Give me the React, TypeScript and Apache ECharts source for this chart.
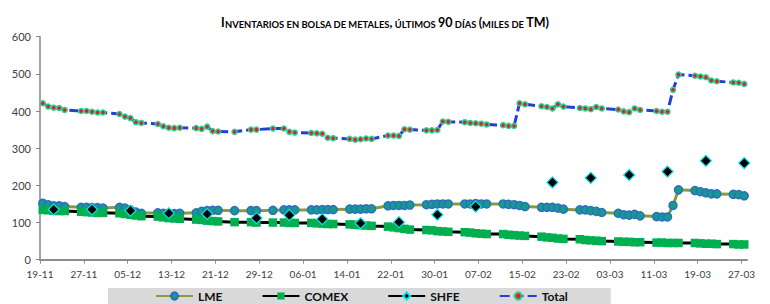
import React, { useEffect, useRef } from "react";
import * as echarts from "echarts";

// Business days (últimos 90 días)
const dates: string[] = [
  "2018-11-19", "2018-11-20", "2018-11-21", "2018-11-22", "2018-11-23",
  "2018-11-26", "2018-11-27", "2018-11-28", "2018-11-29", "2018-11-30",
  "2018-12-03", "2018-12-04", "2018-12-05", "2018-12-06", "2018-12-07",
  "2018-12-10", "2018-12-11", "2018-12-12", "2018-12-13", "2018-12-14",
  "2018-12-17", "2018-12-18", "2018-12-19", "2018-12-20", "2018-12-21",
  "2018-12-24", "2018-12-27", "2018-12-28",
  "2018-12-31", "2019-01-02", "2019-01-03", "2019-01-04",
  "2019-01-07", "2019-01-08", "2019-01-09", "2019-01-10", "2019-01-11",
  "2019-01-14", "2019-01-15", "2019-01-16", "2019-01-17", "2019-01-18",
  "2019-01-21", "2019-01-22", "2019-01-23", "2019-01-24", "2019-01-25",
  "2019-01-28", "2019-01-29", "2019-01-30", "2019-01-31", "2019-02-01",
  "2019-02-04", "2019-02-05", "2019-02-06", "2019-02-07", "2019-02-08",
  "2019-02-11", "2019-02-12", "2019-02-13", "2019-02-14", "2019-02-15",
  "2019-02-18", "2019-02-19", "2019-02-20", "2019-02-21", "2019-02-22",
  "2019-02-25", "2019-02-26", "2019-02-27", "2019-02-28", "2019-03-01",
  "2019-03-04", "2019-03-05", "2019-03-06", "2019-03-07", "2019-03-08",
  "2019-03-11", "2019-03-12", "2019-03-13", "2019-03-14", "2019-03-15",
  "2019-03-18", "2019-03-19", "2019-03-20", "2019-03-21", "2019-03-22",
  "2019-03-25", "2019-03-26", "2019-03-27",
];

const lme: number[] = [
  152, 148, 145, 145, 143,
  141, 141, 140, 140, 139,
  141, 139, 134, 128, 125,
  126, 125, 124, 124, 125,
  126, 130, 132, 133, 133,
  132, 132, 132,
  133, 134, 134, 134,
  134, 134, 135, 135, 135,
  136, 136, 136, 137, 137,
  145, 146, 146, 146, 147,
  148, 149, 150, 150, 150,
  150, 150, 151, 150, 150,
  150, 149, 148, 146, 143,
  141, 141, 141, 139, 136,
  134, 134, 132, 130, 127,
  125, 121, 120, 122, 118,
  116, 115, 115, 146, 188,
  186, 183, 180, 177, 177,
  176, 175, 172,
];

const comex: number[] = [
  134, 133, 132, 131, 131,
  129, 128, 127, 126, 126,
  125, 123, 121, 119, 117,
  116, 114, 112, 111, 110,
  108, 107, 105, 104, 103,
  101, 101, 100,
  100, 100, 99, 99,
  99, 98, 97, 96, 96,
  95, 94, 93, 92, 91,
  89, 87, 85, 83, 81,
  80, 79, 77, 76, 75,
  74, 73, 71, 70, 69,
  69, 67, 66, 65, 64,
  62, 60, 59, 57, 56,
  55, 53, 52, 51, 50,
  49, 48, 48, 47, 47,
  46, 46, 45, 45, 45,
  45, 44, 43, 43, 42,
  42, 41, 41,
];

const total: number[] = [
  421, 412, 409, 408, 403,
  400, 400, 398, 396, 396,
  392, 385, 381, 370, 368,
  365, 359, 355, 354, 355,
  354, 352, 358, 346, 345,
  344, 350, 350,
  353, 353, 344, 342,
  341, 340, 339, 328, 327,
  325, 323, 324, 326, 325,
  334, 334, 333, 351, 350,
  348, 348, 349, 372, 371,
  370, 368, 367, 366, 364,
  362, 360, 360, 421, 418,
  413, 411, 407, 418, 412,
  408, 407, 405, 411, 407,
  404, 399, 397, 407, 403,
  400, 398, 398, 457, 498,
  495, 493, 491, 482, 480,
  477, 476, 473,
];

// SHFE weekly
const shfeDates: string[] = [
  "2018-11-21", "2018-11-28", "2018-12-05", "2018-12-12", "2018-12-19",
  "2018-12-28", "2019-01-03", "2019-01-09", "2019-01-16", "2019-01-23",
  "2019-01-30", "2019-02-06", "2019-02-20", "2019-02-27", "2019-03-06",
  "2019-03-13", "2019-03-20", "2019-03-27",
];
const shfe: number[] = [
  135, 135, 132, 125, 123,
  112, 120, 109, 98, 101,
  121, 143, 208, 220, 228,
  237, 266, 260,
];

const tickLabels: string[] = [
  "19-11", "27-11", "05-12", "13-12", "21-12", "29-12", "06-01", "14-01", "22-01",
  "30-01", "07-02", "15-02", "23-02", "03-03", "11-03", "19-03", "27-03",
];

const START = Date.UTC(2018, 10, 19);
const DAY = 86400000;
const dayPos = (s: string): number => {
  const [y, m, d] = s.split("-").map(Number);
  return (Date.UTC(y, m - 1, d) - START) / DAY + 0.5;
};

const FONT = "Lato";

export default function App() {
  const ref = useRef<HTMLDivElement>(null);

  useEffect(() => {
    if (!ref.current) return;
    const chart = echarts.init(ref.current, null, { renderer: "svg" });

    const xs = dates.map(dayPos);
    const shfeData: any[] = [];
    shfeDates.forEach((d, i) => {
      const x = dayPos(d);
      if (i > 0) shfeData.push([x - 1, null]);
      shfeData.push([x, shfe[i]]);
    });

    const option: any = {
      animation: false,
      backgroundColor: "#ffffff",
      title: {
        text:
          "{b|I}{s|NVENTARIOS EN BOLSA DE METALES}{b|,}{s| ÚLTIMOS }{b|90}{s| DÍAS }{b|(}{s|MILES DE }{b|TM)}",
        left: 380,
        textAlign: "center",
        top: 8,
        textStyle: {
          rich: {
            b: { fontFamily: FONT, fontWeight: "bold", fontSize: 12.5, color: "#000", lineHeight: 16, verticalAlign: "bottom" },
            s: { fontFamily: FONT, fontWeight: "bold", fontSize: 9.4, color: "#000", lineHeight: 16, verticalAlign: "bottom" },
          },
        },
      },
      grid: { left: 40, right: 23, top: 36.7, bottom: 44.3, containLabel: false },
      legend: {
        data: ["LME", "COMEX", "SHFE", "Total"],
        left: 108,
        top: 288,
        padding: [2, 43, 6, 47],
        backgroundColor: "#D9D9D9",
        itemWidth: 37,
        itemHeight: 9,
        itemGap: 39,
        textStyle: { fontFamily: FONT, fontWeight: "bold", fontSize: 12, color: "#111" },
      },
      xAxis: {
        type: "value",
        min: 0,
        max: 129,
        interval: 8,
        axisLine: { show: true, onZero: false, lineStyle: { color: "#8c8c8c", width: 2 } },
        axisTick: { show: true, length: 4, lineStyle: { color: "#8c8c8c", width: 1 } },
        splitLine: { show: false },
        axisLabel: {
          fontFamily: FONT,
          fontSize: 10,
          color: "#404040",
          margin: 9,
          showMaxLabel: false,
          formatter: (v: number) => (v % 8 === 0 && tickLabels[v / 8] ? tickLabels[v / 8] : ""),
        },
      },
      yAxis: {
        type: "value",
        min: 0,
        max: 600,
        interval: 100,
        axisLine: { show: true, lineStyle: { color: "#868686", width: 1.5 } },
        axisTick: { show: true, length: 4, lineStyle: { color: "#868686" } },
        splitLine: { show: false },
        axisLabel: { fontFamily: FONT, fontSize: 11, color: "#404040", margin: 9 },
      },
      series: [
        {
          name: "LME",
          type: "line",
          data: xs.map((x, i) => [x, lme[i]]),
          symbol: "circle",
          symbolSize: 8,
          showSymbol: true,
          showAllSymbol: true,
          itemStyle: { color: "#169A8E", borderColor: "#2C6FBF", borderWidth: 1.5 },
          lineStyle: { color: "#8A9A3A", width: 3 },
        },
        {
          name: "COMEX",
          type: "line",
          data: xs.map((x, i) => [x, comex[i]]),
          symbol: "rect",
          symbolSize: 8.5,
          showSymbol: true,
          showAllSymbol: true,
          itemStyle: { color: "#00B050" },
          lineStyle: { color: "#000000", width: 3 },
        },
        {
          name: "SHFE",
          type: "line",
          data: shfeData,
          connectNulls: false,
          symbol: "diamond",
          symbolSize: 11,
          showSymbol: true,
          showAllSymbol: true,
          itemStyle: { color: "#000000", borderColor: "#00E5F0", borderWidth: 1.2 },
          lineStyle: { color: "#000000", width: 3 },
        },
        {
          name: "Total",
          type: "line",
          data: xs.map((x, i) => [x, total[i]]),
          symbol: "circle",
          symbolSize: 5,
          showSymbol: true,
          showAllSymbol: true,
          itemStyle: { color: "#E0201C", borderColor: "#2BD19A", borderWidth: 1.5 },
          lineStyle: { color: "#1F3FD6", width: 3, type: [10, 4] },
        },
      ],
    };

    chart.setOption(option);
    return () => chart.dispose();
  }, []);

  return (
    <div
      ref={ref}
      style={{ position: "fixed", left: 0, top: 0, width: 770, height: 304 }}
    />
  );
}
